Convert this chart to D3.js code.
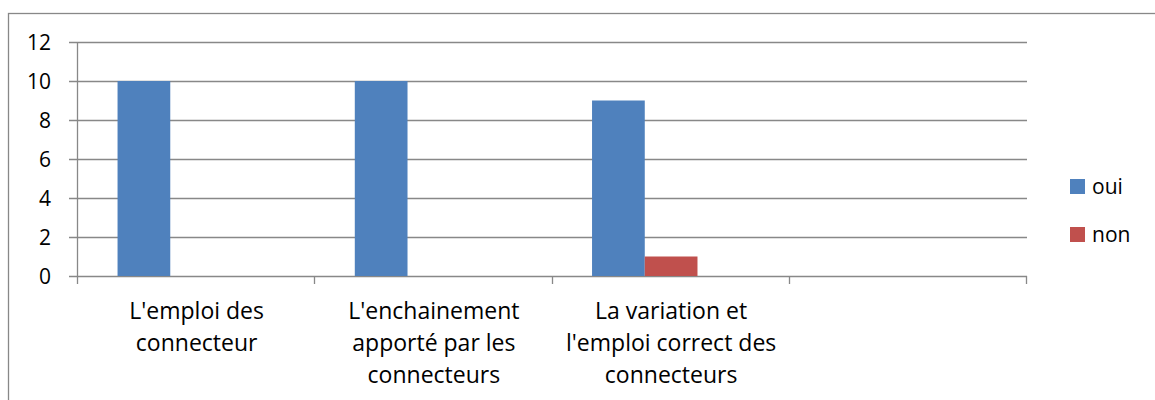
<!DOCTYPE html>
<meta charset="utf-8">
<script src="https://d3js.org/d3.v7.min.js"></script>
<style>
  body { margin: 0; background: #fff; }
  text { font-family: "Open Sans", sans-serif; fill: #000; }
</style>
<svg id="chart" width="1155" height="400"></svg>
<script>

// categories (the 4th one is empty in the original)
var categories = ["c1", "c2", "c3", "c4"];
var catLabels = [
  ["L'emploi des", "connecteur"],
  ["L'enchainement", "apporté par les", "connecteurs"],
  ["La variation et", "l'emploi correct des", "connecteurs"],
  []
];
var series = ["oui", "non"];
var colors = ["#4F81BD", "#C0504D"];
var oui = [10, 10, 9, null];
var non = [0, 0, 1, null];
var yTicks = [0, 2, 4, 6, 8, 10, 12];

var svg = d3.select("#chart");

// outer chart frame (only left and top are visible in the picture)
svg.append("rect")
  .attr("x", 8.5).attr("y", 13.5)
  .attr("width", 1200).attr("height", 450)
  .attr("fill", "none")
  .attr("stroke", "#888").attr("stroke-width", 1.3);

var plotLeft = 78, plotRight = 1027, plotTop = 42, plotBottom = 276;

var y = d3.scaleLinear().domain([0, 12]).range([plotBottom, plotTop]);
var x0 = d3.scaleBand().domain(categories).range([plotLeft, plotRight]);
// there is a third (empty) slot per category, like a hidden series
var x1 = d3.scaleBand().domain(series.concat(["_"]))
  .range([0, x0.bandwidth()])
  .paddingOuter(0.75);

// gridlines + y ticks
svg.append("g").selectAll("line")
  .data(yTicks)
  .enter().append("line")
    .attr("x1", plotLeft - 9).attr("x2", plotRight)
    .attr("y1", function(d) { return Math.round(y(d)) + 0.5; })
    .attr("y2", function(d) { return Math.round(y(d)) + 0.5; })
    .attr("stroke", "#888").attr("stroke-width", 1.3);

svg.append("g").selectAll("text")
  .data(yTicks)
  .enter().append("text")
    .attr("x", 51)
    .attr("y", function(d) { return y(d); })
    .attr("dy", "0.36em")
    .attr("text-anchor", "end")
    .style("font-size", "21px")
    .text(function(d) { return d; });

// y axis line
svg.append("line")
  .attr("x1", plotLeft - 0.5).attr("x2", plotLeft - 0.5)
  .attr("y1", plotTop).attr("y2", plotBottom + 8)
  .attr("stroke", "#888").attr("stroke-width", 1.3);

// x ticks at category boundaries
var bounds = categories.map(function(c) { return x0(c); }).concat([plotRight]);
svg.append("g").selectAll("line")
  .data(bounds.slice(1))
  .enter().append("line")
    .attr("x1", function(d) { return Math.round(d) - 0.5; })
    .attr("x2", function(d) { return Math.round(d) - 0.5; })
    .attr("y1", plotBottom).attr("y2", plotBottom + 8)
    .attr("stroke", "#888").attr("stroke-width", 1.3);

// bars
var values = [oui, non];
series.forEach(function(s, i) {
  svg.append("g").selectAll("rect")
    .data(categories.map(function(c, j) { return { cat: c, v: values[i][j] }; })
      .filter(function(d) { return d.v; }))
    .enter().append("rect")
      .attr("x", function(d) { return x0(d.cat) + x1(s); })
      .attr("width", x1.bandwidth())
      .attr("y", function(d) { return y(d.v); })
      .attr("height", function(d) { return y(0) - y(d.v); })
      .attr("fill", colors[i]);
});

// category labels
var lab = svg.append("g").selectAll("text")
  .data(categories)
  .enter().append("text")
    .attr("text-anchor", "middle")
    .style("font-size", "23px")
    .attr("transform", function(c) { return "translate(" + (x0(c) + x0.bandwidth() / 2) + ",319)"; });
lab.each(function(c, i) {
  d3.select(this).selectAll("tspan")
    .data(catLabels[i])
    .enter().append("tspan")
      .attr("x", 0)
      .attr("y", function(d, k) { return k * 32; })
      .text(function(d) { return d; });
});

// legend
var legend = svg.append("g").selectAll("g")
  .data(series)
  .enter().append("g")
    .attr("transform", function(d, i) { return "translate(1070," + (179 + i * 48) + ")"; });
legend.append("rect")
  .attr("width", 15).attr("height", 15)
  .attr("fill", function(d, i) { return colors[i]; });
legend.append("text")
  .attr("x", 22).attr("y", 7.5).attr("dy", "0.36em")
  .style("font-size", "21px")
  .text(function(d) { return d; });

</script>
